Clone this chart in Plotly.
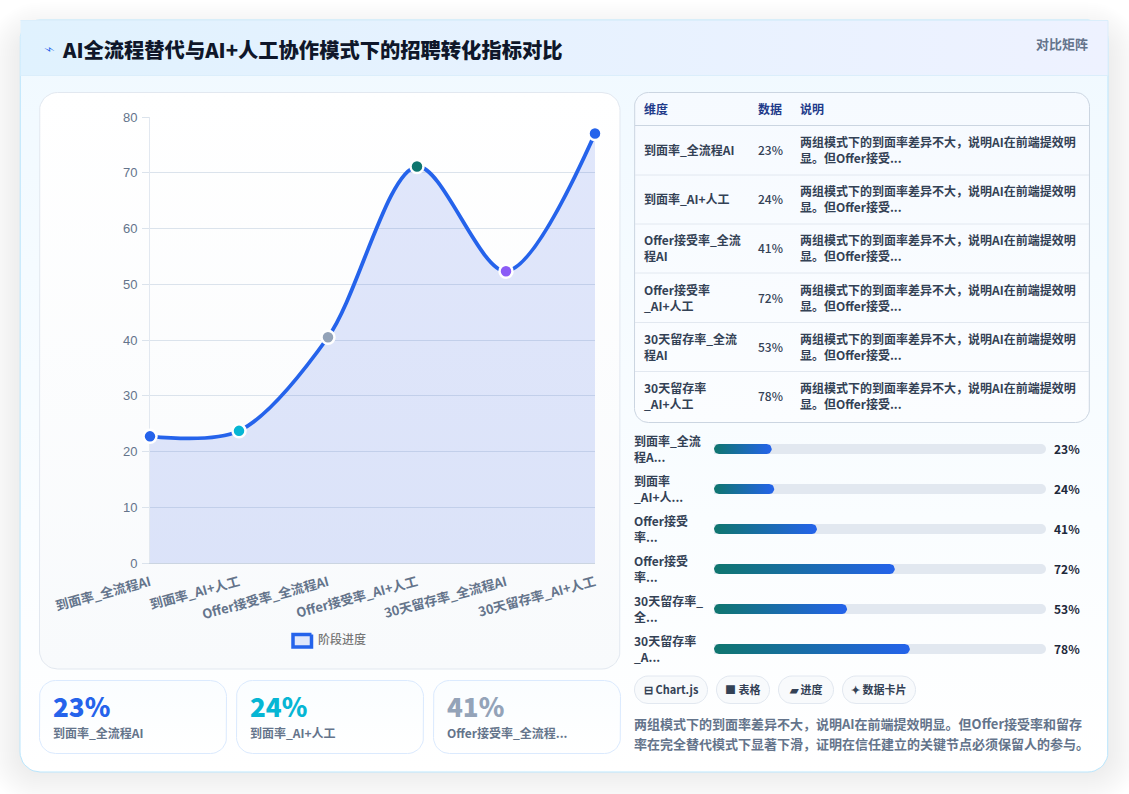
import numpy as np
import plotly.graph_objects as go

WIDTH, HEIGHT = 1129, 794
CJK = "Noto Sans CJK SC"

# Recruiting funnel metrics
categories = ["到面率_全流程AI", "到面率_AI+人工", "Offer接受率_全流程AI",
              "Offer接受率_AI+人工", "30天留存率_全流程AI", "30天留存率_AI+人工"]
values = [23, 24, 41, 72, 53, 78]
point_colors = ["#2563eb", "#06b6d4", "#94a3b8", "#0f766e", "#8b5cf6", "#2563eb"]
y_ticks = [0, 10, 20, 30, 40, 50, 60, 70, 80]
legend_label = "阶段进度"

title_text = "AI全流程替代与AI+人工协作模式下的招聘转化指标对比"
badge_text = "对比矩阵"
table_headers = ["维度", "数据", "说明"]
table_dims = ["到面率_全流程AI", "到面率_AI+人工", "Offer接受率_全流<br>程AI",
              "Offer接受率<br>_AI+人工", "30天留存率_全流<br>程AI", "30天留存率<br>_AI+人工"]
table_note = "两组模式下的到面率差异不大，说明AI在前端提效明<br>显。但Offer接受..."
bar_labels = ["到面率_全流<br>程A...", "到面率<br>_AI+人...", "Offer接受<br>率...",
              "Offer接受<br>率...", "30天留存率_<br>全...", "30天留存率<br>_A..."]
pill_labels = ["⊟ Chart.js", "■ 表格", "▰ 进度", "✦ 数据卡片"]
kpi_labels = ["到面率_全流程AI", "到面率_AI+人工", "Offer接受率_全流程..."]
summary_lines = ["两组模式下的到面率差异不大，说明AI在前端提效明显。但Offer接受率和留存",
                 "率在完全替代模式下显著下滑，证明在信任建立的关键节点必须保留人的参与。"]


def rounded(x0, y0, x1, y1, r, n=10):
    """Outline of a rounded rectangle, given in page pixels."""
    xs, ys = [], []
    for cx, cy, a0 in [(x1 - r, y0 + r, -90), (x1 - r, y1 - r, 0),
                       (x0 + r, y1 - r, 90), (x0 + r, y0 + r, 180)]:
        t = np.radians(np.linspace(a0, a0 + 90, n))
        xs += list(cx + r * np.cos(t))
        ys += list(cy + r * np.sin(t))
    return xs + xs[:1], ys + ys[:1]


fig = go.Figure()


def panel(x0, y0, x1, y1, r, fill=None, grad=None, line=None, lw=1):
    xs, ys = rounded(x0, y0, x1, y1, r)
    # The page axis runs downward, so a vertical gradient lists its bottom colour first
    kw = dict(fillcolor=fill) if grad is None else dict(
        fillgradient=dict(type=grad[0], colorscale=[[0, grad[2]], [1, grad[1]]]))
    fig.add_trace(go.Scatter(x=xs, y=ys, mode="lines", fill="toself",
                             line=dict(color=line or "rgba(0,0,0,0)", width=lw if line else 0),
                             hoverinfo="skip", showlegend=False, xaxis="x", yaxis="y", **kw))


def label(x, y, text, size, color, weight=400, anchor="left", family=CJK, angle=0):
    fig.add_annotation(x=x, y=y, xref="x", yref="y", text=text, showarrow=False,
                       xanchor=anchor, yanchor="middle", align="left", borderpad=0, borderwidth=0,
                       textangle=angle, font=dict(family=family, size=size, color=color, weight=weight))


# Soft drop shadow below the main card
for grow in range(34, 0, -2):
    panel(20 - grow, 36 - grow, 1108 + grow, 772 + grow, 20 + grow, fill="rgba(15,23,42,0.0035)")

# Main card, header band and panels
panel(20, 20, 1108, 772, 20, grad=("vertical", "#f0f9ff", "#ffffff"), line="#bae6fd")
fig.add_trace(go.Scatter(x=[20.5, 1108, 1108, 20.5, 20.5], y=[20.5, 20.5, 75.5, 75.5, 20.5], mode="lines", fill="toself",
                         line=dict(width=0, color="rgba(0,0,0,0)"),
                         fillgradient=dict(type="horizontal", colorscale=[[0, "#e0f2fe"], [1, "#eef2ff"]]),
                         hoverinfo="skip", showlegend=False))
fig.add_trace(go.Scatter(x=[20.5, 1108, 1108, 20.5], y=[75.5, 75.5, 20.5, 20.5], mode="lines",
                         line=dict(color="#dbeefb", width=1), hoverinfo="skip", showlegend=False))
panel(39.5, 92.5, 620, 669, 18, grad=("vertical", "#ffffff", "#f8fafc"), line="#e2e8f0")
for x0 in (39.5, 236.5, 433.5):
    panel(x0, 680.5, x0 + 187, 753.5, 16, grad=("vertical", "#fafdff", "#ffffff"), line="#dbeafe")

# Comparison table frame and rules
panel(634.5, 92.5, 1089.5, 422.5, 14, grad=("vertical", "#f6faff", "#fbfdff"), line="#cbd5e1")
rule_rows = [125.5, 175, 224, 273, 322.5, 371.5]
for i, yy in enumerate(rule_rows):
    fig.add_trace(go.Scatter(x=[635, 1089], y=[yy, yy], mode="lines",
                             line=dict(color="#cbd5e1" if i == 0 else "#e2e8f0", width=1),
                             hoverinfo="skip", showlegend=False))

# Carries the gridded value axis of the area chart
fig.add_trace(go.Scatter(x=[0] * len(y_ticks), y=y_ticks, xaxis="x2", yaxis="y2", mode="none",
                         hoverinfo="skip", showlegend=False))

# Area line on its own slightly longer scale, laid over the gridded axis
fig.add_trace(go.Scatter(
    x=list(range(len(values))), y=values, xaxis="x2", yaxis="y4", mode="lines+markers",
    line=dict(color="#2563eb", width=3.8, shape="spline", smoothing=0.9),
    fill="tozeroy", fillcolor="rgba(46,84,225,0.14)",
    marker=dict(size=13, color=point_colors, line=dict(color="#ffffff", width=2.5)),
    cliponaxis=False, showlegend=False, hovertemplate="%{text}: %{y}%<extra></extra>", text=categories,
))

# Progress rows: grey tracks plus gradient-filled capsules
BAR_SCALE_MAX = 132.2
rows = list(range(len(values)))
fig.add_trace(go.Bar(x=[BAR_SCALE_MAX] * len(values), y=rows, orientation="h", width=0.25,
                     marker=dict(color="#e2e8f0", line=dict(width=0)), xaxis="x3", yaxis="y3",
                     hoverinfo="skip", showlegend=False))
BAR_PX = 332 / BAR_SCALE_MAX
for row, v in zip(rows, values):
    t = np.radians(np.linspace(-90, 90, 15))
    rx = 5 / BAR_PX
    ry = 0.125
    cap_x = list(v - rx + rx * np.cos(t)) + list(rx - rx * np.cos(t))
    cap_y = list(row + ry * np.sin(t)) + list(row + ry - 2 * ry * (np.sin(t) + 1) / 2)
    fig.add_trace(go.Scatter(x=cap_x + cap_x[:1], y=cap_y + cap_y[:1], xaxis="x3", yaxis="y3", mode="lines",
                             fill="toself", line=dict(width=0, color="rgba(0,0,0,0)"),
                             fillgradient=dict(type="horizontal", colorscale=[[0, "#0f766e"], [1, "#2563eb"]]),
                             hovertemplate=f"{v}%<extra></extra>", showlegend=False))

# Header text
label(42, 50, "⚡", 11, "#2563eb", family="DejaVu Sans", angle=70)
label(62, 48.5, title_text, 20.3, "#0f172a", 900)
label(1088, 43, badge_text, 13, "#64748b", 600, anchor="right")

# Legend swatch for the area line
panel(293, 634.5, 311.5, 647, 0.01, fill="#e0e7fb", line="#2563eb", lw=3.5)
label(318, 638.5, legend_label, 12, "#777777", 500)

# Table text
for x, head in zip((644, 758, 800), table_headers):
    label(x, 108.5, head, 12, "#1e3a8a", 700)
row_mid = [149, 198.5, 247.5, 297, 346.5, 395.5]
for yy, dim, v in zip(row_mid, table_dims, values):
    label(644, yy, dim, 12, "#334155", 600)
    label(758, yy, f"{v}%", 12, "#334155", 500)
    label(800, yy, table_note, 12, "#334155", 600)

# Progress row text
for i, (name, v) in enumerate(zip(bar_labels, values)):
    yy = 448 + 40 * i
    label(634, yy, name, 12, "#334155", 700)
    label(1054, yy + 0.5, f"{v}%", 12, "#1e293b", 700)

# Tool pills
for (x0, x1), text in zip([(634.5, 707.5), (716.5, 769.5), (778.5, 833.5), (842.5, 915.5)], pill_labels):
    panel(x0, 676, x1, 703.5, 13.5, fill="#f8fafc", line="#e2e8f0")
    label((x0 + x1) / 2, 689, text, 11, "#334155", 700, anchor="center")

# Summary text
label(634, 723.5, summary_lines[0], 13, "#64748b", 600)
label(634, 743.5, summary_lines[1], 13, "#64748b", 600)

# KPI cards
for x0, v, name, color in zip((53, 250, 447), values, kpi_labels, point_colors):
    label(x0, 705, f"{v}%", 26, color, 800)
    label(x0, 732, name, 12, "#64748b", 600)


def px_x(a, b):
    return [a / WIDTH, b / WIDTH]


def px_y(top, bottom):
    return [1 - bottom / HEIGHT, 1 - top / HEIGHT]


fig.update_layout(
    width=WIDTH, height=HEIGHT, autosize=False, margin=dict(l=0, r=0, t=0, b=0, autoexpand=False),
    paper_bgcolor="#ffffff", plot_bgcolor="rgba(0,0,0,0)", barcornerradius=5,
    font=dict(family=CJK), hoverlabel=dict(font_family=CJK),
    xaxis=dict(domain=[0, 1], range=[0, WIDTH], visible=False, fixedrange=True),
    yaxis=dict(domain=[0, 1], range=[HEIGHT, 0], visible=False, fixedrange=True),
    xaxis2=dict(domain=px_x(150, 595), range=[0, 5], tickmode="array", tickvals=list(range(len(categories))),
                ticktext=categories, tickangle=-15, anchor="y2", showgrid=False, ticks="", ticklabelstandoff=6,
                zeroline=False, showline=True, linecolor="#cbd5e1", linewidth=1, layer="below traces",
                tickfont=dict(family=CJK, size=13, color="#64748b", weight=600), fixedrange=True),
    yaxis2=dict(domain=px_y(117, 563), range=[0, 80], anchor="x2", tickvals=y_ticks, gridcolor="#dbe3ec",
                ticks="outside", ticklen=7, tickcolor="#dbe3ec", zeroline=False, ticklabelstandoff=2,
                showline=True, linecolor="#e2e8f0", linewidth=1, layer="below traces",
                tickfont=dict(family="Liberation Sans", size=13, color="#64748b"), fixedrange=True),
    yaxis4=dict(domain=px_y(117, 563), range=[0, 81], overlaying="y2", anchor="x2", visible=False, fixedrange=True),
    xaxis3=dict(domain=px_x(714, 1046), range=[0, BAR_SCALE_MAX], anchor="y3", visible=False, fixedrange=True),
    yaxis3=dict(domain=px_y(429, 669), range=[5.5, -0.5], anchor="x3", visible=False, fixedrange=True),
)

fig.write_html("out.html", config=dict(displayModeBar=False))
